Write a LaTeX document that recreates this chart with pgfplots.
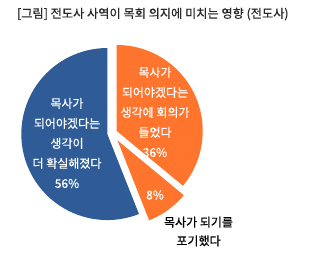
\documentclass[border=0pt]{standalone}
\usepackage{fontspec}
\setmainfont{Noto Sans CJK KR}
\newfontfamily\lbl{Noto Sans CJK KR}[FakeBold=0.5]
\usepackage{pgfplots}
\pgfplotsset{compat=1.18}
\definecolor{blueC}{RGB}{47,91,150}
\definecolor{orangeC}{RGB}{255,117,45}
\begin{document}
\begin{tikzpicture}
% pie data (percent) and explode distances (px)
\def\vA{36}\def\eA{5}   % 회의가 들었다
\def\vB{8}\def\eB{9}    % 포기했다
\def\vC{56}\def\eC{5}   % 더 확실해졌다
\def\cx{112.2}\def\cy{127.9}
\def\R{64.5pt}
\pgfmathsetmacro\aA{90}
\pgfmathsetmacro\aB{\aA-3.6*\vA}
\pgfmathsetmacro\aC{\aB-3.6*\vB}
\pgfmathsetmacro\aD{\aC-3.6*\vC}
\pgfmathsetmacro\mA{(\aA+\aB)/2}
\pgfmathsetmacro\mB{(\aB+\aC)/2}
\pgfmathsetmacro\mC{(\aC+\aD)/2}
\pgfmathsetmacro\xA{\cx+\eA*cos(\mA)}\pgfmathsetmacro\yA{\cy+\eA*sin(\mA)}
\pgfmathsetmacro\xB{\cx+\eB*cos(\mB)}\pgfmathsetmacro\yB{\cy+\eB*sin(\mB)}
\pgfmathsetmacro\xC{\cx+\eC*cos(\mC)}\pgfmathsetmacro\yC{\cy+\eC*sin(\mC)}
\begin{axis}[
  scale only axis, width=246.75pt, height=195.75pt,
  xmin=0, xmax=329, ymin=0, ymax=261,
  hide axis, clip=false,
]
\addplot[draw=none, forget plot] coordinates {(0,0) (329,261)};
\fill[orangeC] (axis cs:\xA,\yA) -- ++(\aA:\R) arc[start angle=\aA, end angle=\aB, radius=\R] -- cycle;
\fill[orangeC] (axis cs:\xB,\yB) -- ++(\aB:\R) arc[start angle=\aB, end angle=\aC, radius=\R] -- cycle;
\fill[blueC] (axis cs:\xC,\yC) -- ++(\aC:\R) arc[start angle=\aC, end angle=\aD, radius=\R] -- cycle;
\node[anchor=west, font=\lbl\fontsize{9.15}{11}\selectfont, text=black!85] at (axis cs:12.5,247) {[그림] 전도사 사역이 목회 의지에 미치는 영향 (전도사)};
\node[align=center, text=white, font=\lbl\fontsize{9}{15}\selectfont] at (axis cs:67,118) {목사가\\되어야겠다는\\생각이\\더 확실해졌다\\56\%};
\node[align=center, text=white, font=\lbl\fontsize{9}{15}\selectfont] at (axis cs:155,149) {목사가\\되어야겠다는\\생각에 회의가\\들었다\\36\%};
\node[align=center, text=white, font=\lbl\fontsize{9}{15}\selectfont] at (axis cs:155,66) {8\%};
\node[align=center, text=black, font=\lbl\fontsize{9}{14}\selectfont] at (axis cs:198.5,29.5) {목사가 되기를\\포기했다};
\end{axis}
\end{tikzpicture}
\end{document}
